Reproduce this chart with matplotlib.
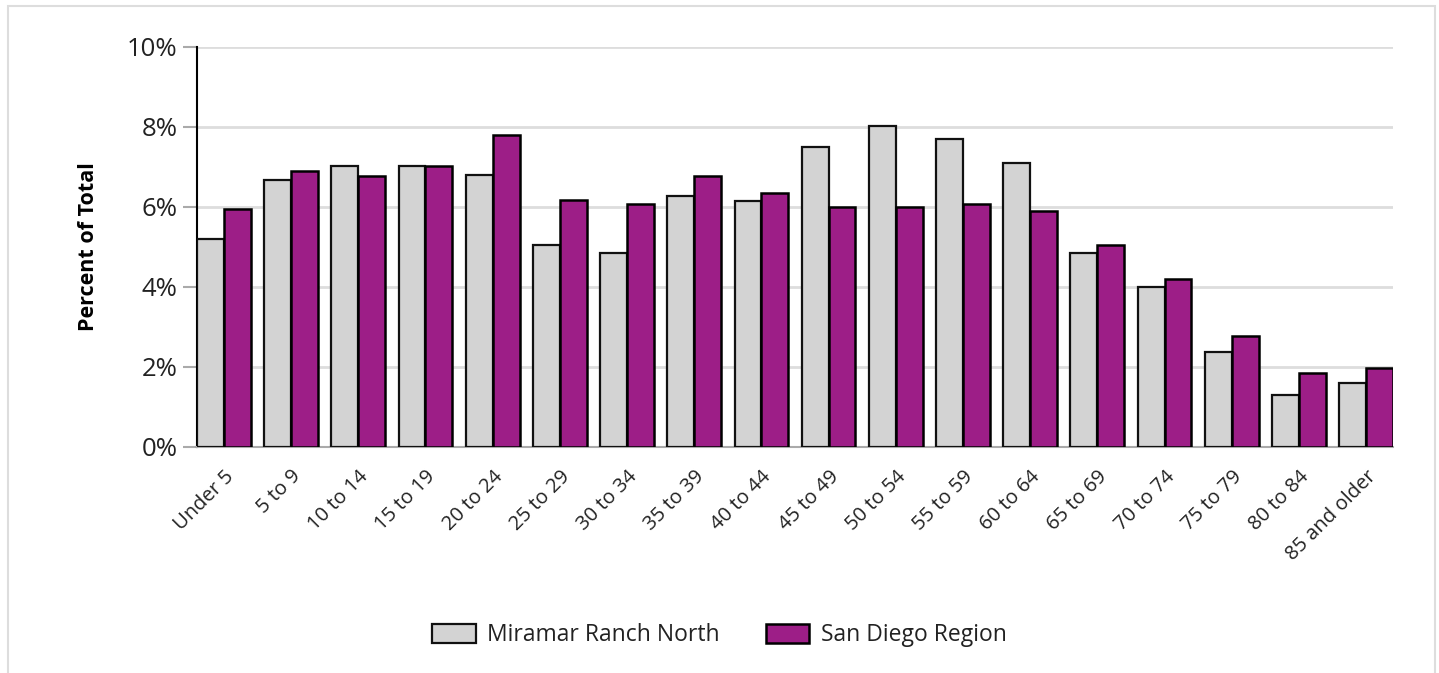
import numpy as np
import matplotlib
matplotlib.use("Agg")
import matplotlib.pyplot as plt
from matplotlib.patches import Rectangle
from matplotlib.ticker import FuncFormatter

# grupos de edad
grupos = ['Under 5', '5 to 9', '10 to 14', '15 to 19', '20 to 24', '25 to 29',
          '30 to 34', '35 to 39', '40 to 44', '45 to 49', '50 to 54', '55 to 59',
          '60 to 64', '65 to 69', '70 to 74', '75 to 79', '80 to 84', '85 and older']

# porcentajes
miramar = [5.20, 6.68, 7.02, 7.03, 6.81, 5.05, 4.85, 6.27, 6.15, 7.51,
           8.03, 7.71, 7.11, 4.84, 3.99, 2.37, 1.31, 1.61]
san_diego = [5.94, 6.90, 6.77, 7.02, 7.80, 6.17, 6.07, 6.77, 6.35, 6.00,
             6.00, 6.07, 5.89, 5.04, 4.19, 2.78, 1.85, 1.98]

series = ['Miramar Ranch North', 'San Diego Region']
colores = ['#D3D3D3', '#9D1E87']

plt.rcParams['font.family'] = ['Open Sans', 'DejaVu Sans']

fig = plt.figure(figsize=(14.39, 6.73), dpi=100)
ax = fig.add_axes([197 / 1439, 1 - 447 / 673, (1393 - 197) / 1439, 400 / 673])

# marco exterior
fig.patches.append(Rectangle((8 / 1439, -0.05), (1435 - 8) / 1439, 1 - 6 / 673 + 0.05,
                             transform=fig.transFigure, fill=False,
                             edgecolor='#dddddd', linewidth=1.5))

x = np.arange(len(grupos))
w = 0.4
ax.bar(x - w / 2, miramar, w, color=colores[0], edgecolor='#111111',
       linewidth=1.6, label=series[0], zorder=3)
ax.bar(x + w / 2, san_diego, w, color=colores[1], edgecolor='#000000',
       linewidth=1.8, label=series[1], zorder=3)

ax.set_xlim(-0.4, len(grupos) - 1 + 0.4)
ax.set_ylim(0, 10)
ax.set_yticks(np.arange(0, 11, 2))
ax.yaxis.set_major_formatter(FuncFormatter(lambda v, p: f'{v:.0f}%'))
ax.grid(axis='y', color='#dddddd', linewidth=2, zorder=0)
ax.set_axisbelow(True)

for s in ['top', 'right']:
    ax.spines[s].set_visible(False)
ax.spines['left'].set_color('#000000')
ax.spines['left'].set_linewidth(1.5)
ax.spines['bottom'].set_color('#aaaaaa')
ax.spines['bottom'].set_linewidth(1.5)

ax.tick_params(axis='y', length=10, width=1.5, color='#aaaaaa',
               labelsize=18.5, pad=4, labelcolor='#222222')
ax.tick_params(axis='x', length=0, labelsize=14.5, pad=14, labelcolor='#222222')
ax.set_xticks(x)
ax.set_xticklabels(grupos, rotation=45, ha='right', rotation_mode='anchor')

ax.set_ylabel('Percent of Total', fontsize=15.5, fontweight='bold', labelpad=20)

fig.legend(loc='center', bbox_to_anchor=(0.5, 1 - 635 / 673), ncol=2,
           frameon=False, fontsize=16.5, handlelength=1.9, handleheight=0.9,
           columnspacing=2.0, handletextpad=0.5, labelcolor='#222222')

fig.savefig('out.png', dpi=100)
